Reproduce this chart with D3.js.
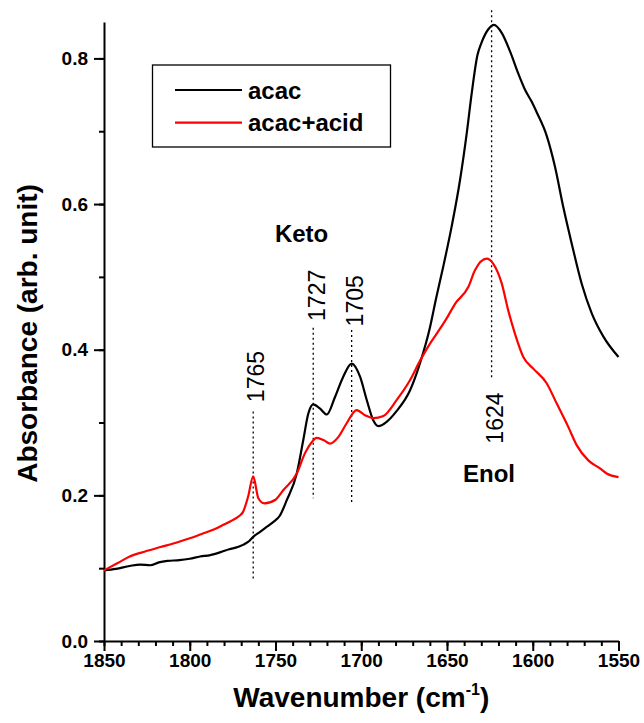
<!DOCTYPE html>
<html>
<head>
<meta charset="utf-8">
<script src="https://cdn.jsdelivr.net/npm/d3@7"></script>
<style>
  body { margin: 0; background: #fff; }
  text { font-family: Arial, "Liberation Sans", sans-serif; }
</style>
</head>
<body>
<div id="chart"></div>
<script>
// acac spectrum (wavenumber, absorbance)
const acacWn = [1850, 1843, 1835, 1829, 1823, 1818, 1813, 1806, 1800, 1794, 1788, 1782, 1777, 1772, 1769, 1766, 1763, 1759, 1755, 1751, 1747.5, 1743.5, 1737.6, 1733.8, 1730.9, 1728, 1724, 1720.1, 1715.3, 1710.5, 1705.6, 1700.7, 1696.8, 1693, 1690, 1685.2, 1679.3, 1671.6, 1665.7, 1659.9, 1656.4, 1652.2, 1647.3, 1642.4, 1638.5, 1635.6, 1632.3, 1629.8, 1625.9, 1622.6, 1618.1, 1613.3, 1608.4, 1604.5, 1600.5, 1597.7, 1591.9, 1587, 1582.2, 1577.3, 1571.5, 1565.6, 1558.8, 1550];
const acacAbs = [0.097, 0.099, 0.103, 0.105, 0.104, 0.108, 0.110, 0.111, 0.113, 0.116, 0.118, 0.122, 0.126, 0.129, 0.132, 0.136, 0.143, 0.150, 0.157, 0.164, 0.172, 0.193, 0.230, 0.276, 0.312, 0.325, 0.319, 0.311, 0.335, 0.363, 0.381, 0.363, 0.331, 0.303, 0.295, 0.301, 0.316, 0.344, 0.382, 0.431, 0.470, 0.514, 0.569, 0.633, 0.697, 0.752, 0.804, 0.822, 0.840, 0.846, 0.835, 0.810, 0.779, 0.757, 0.740, 0.726, 0.694, 0.651, 0.596, 0.546, 0.491, 0.450, 0.418, 0.390];

// acac+acid spectrum
const acidWn = [1850, 1842, 1835, 1826, 1817, 1808, 1800, 1793, 1786, 1780, 1775, 1771, 1769, 1766, 1763, 1760, 1756.5, 1750, 1745.5, 1737.6, 1732.8, 1728.9, 1726, 1722, 1718.2, 1713.4, 1708.5, 1702.7, 1697.8, 1693, 1687.1, 1679.3, 1671.6, 1665.7, 1660, 1656, 1650.2, 1645.3, 1637.6, 1633.7, 1626.9, 1623, 1618.1, 1614.3, 1610.4, 1605.5, 1599.7, 1591.9, 1586, 1579.3, 1574.4, 1567.6, 1560.8, 1556.9, 1550];
const acidAbs = [0.097, 0.107, 0.116, 0.123, 0.129, 0.135, 0.141, 0.147, 0.153, 0.160, 0.166, 0.172, 0.177, 0.198, 0.226, 0.196, 0.189, 0.194, 0.207, 0.230, 0.258, 0.273, 0.279, 0.276, 0.271, 0.280, 0.299, 0.317, 0.310, 0.306, 0.309, 0.331, 0.358, 0.385, 0.408, 0.422, 0.443, 0.463, 0.486, 0.509, 0.525, 0.518, 0.491, 0.454, 0.422, 0.390, 0.374, 0.354, 0.326, 0.294, 0.269, 0.248, 0.237, 0.230, 0.225];

// peak markers: dotted line position, line top/bottom absorbance, label and label start
const peakWn = [1763, 1728, 1705.6, 1624];
const peakTop = [0.315, 0.43, 0.427, 0.866];
const peakBottom = [0.084, 0.196, 0.191, 0.358];
const peakLabels = ['1765', '1727', '1705', '1624'];
const peakLabelAbs = [0.328, 0.4395, 0.432, 0.271];

const bandLabels = ['Keto', 'Enol'];
const bandWn = [1734.8, 1625.5];
const bandAbs = [0.5475, 0.218];

const seriesNames = ['acac', 'acac+acid'];
const seriesColors = ['#000000', '#ff0000'];

const xMajor = [1850, 1800, 1750, 1700, 1650, 1600, 1550];
const yMajor = [0.0, 0.2, 0.4, 0.6, 0.8];

const width = 644;
const height = 723;
const margin = { left: 104, top: 22, right: 25.5, bottom: 82 };

const svg = d3.select('#chart')
    .append('svg')
    .attr('width', width)
    .attr('height', height);

const x = d3.scaleLinear().domain([1850, 1550]).range([margin.left, width - margin.right]);
const y = d3.scaleLinear().domain([0, 0.85]).range([height - margin.bottom, margin.top]);

// minor ticks
svg.append('g')
    .attr('transform', `translate(0,${y(0)})`)
    .call(d3.axisBottom(x).tickValues(d3.range(1850, 1549, -10)).tickSize(5).tickFormat(''))
    .call(g => g.select('.domain').remove())
    .call(g => g.selectAll('line').attr('stroke-width', 2));
svg.append('g')
    .attr('transform', `translate(${x(1850)},0)`)
    .call(d3.axisLeft(y).tickValues(d3.range(0, 0.85, 0.1)).tickSize(5).tickFormat(''))
    .call(g => g.select('.domain').remove())
    .call(g => g.selectAll('line').attr('stroke-width', 2));

// major axes
const xAxis = svg.append('g')
    .attr('transform', `translate(0,${y(0)})`)
    .call(d3.axisBottom(x).tickValues(xMajor).tickSize(10).tickSizeOuter(0).tickPadding(3).tickFormat(d3.format('d')));
const yAxis = svg.append('g')
    .attr('transform', `translate(${x(1850)},0)`)
    .call(d3.axisLeft(y).tickValues(yMajor).tickSize(10).tickSizeOuter(0).tickPadding(6).tickFormat(d3.format('.1f')));

[xAxis, yAxis].forEach(a => {
    a.select('.domain').attr('stroke-width', 2);
    a.selectAll('line').attr('stroke-width', 2);
    a.selectAll('text')
        .style('font-size', '19px')
        .style('font-weight', 'bold')
        .attr('fill', '#000');
});

// axis titles
const xt = svg.append('text')
    .attr('x', (x(1850) + x(1550)) / 2)
    .attr('y', 707)
    .attr('text-anchor', 'middle')
    .style('font-size', '28px')
    .style('font-weight', 'bold');
xt.append('tspan').text('Wavenumber (cm');
xt.append('tspan').attr('dy', -12).style('font-size', '16px').text('-1');
xt.append('tspan').attr('dy', 12).text(')');

svg.append('text')
    .attr('transform', `translate(37,${(y(0) + y(0.85)) / 2 + 2}) rotate(-90)`)
    .attr('text-anchor', 'middle')
    .style('font-size', '28px')
    .style('font-weight', 'bold')
    .text('Absorbance (arb. unit)');

// dotted peak markers
peakWn.forEach((wn, i) => {
    svg.append('line')
        .attr('x1', x(wn)).attr('x2', x(wn))
        .attr('y1', y(peakTop[i])).attr('y2', y(peakBottom[i]))
        .attr('stroke', '#000')
        .attr('stroke-width', 1.3)
        .attr('stroke-dasharray', '2,3');

    svg.append('text')
        .attr('transform', `translate(${x(wn) + 3},${y(peakLabelAbs[i])}) rotate(-90)`)
        .attr('dy', '0.36em')
        .style('font-size', '23px')
        .text(peakLabels[i]);
});

// spectra
const line = d3.line()
    .x(d => x(d[0]))
    .y(d => y(d[1]))
    .curve(d3.curveMonotoneX);

const seriesData = [
    d3.zip(acacWn, acacAbs),
    d3.zip(acidWn, acidAbs)
];

seriesData.forEach((data, i) => {
    svg.append('path')
        .datum(data)
        .attr('fill', 'none')
        .attr('stroke', seriesColors[i])
        .attr('stroke-width', 2.2)
        .attr('stroke-linejoin', 'round')
        .attr('d', line);
});

// band labels
bandLabels.forEach((t, i) => {
    svg.append('text')
        .attr('x', x(bandWn[i]))
        .attr('y', y(bandAbs[i]))
        .attr('text-anchor', 'middle')
        .style('font-size', '24px')
        .style('font-weight', 'bold')
        .text(t);
});

// legend
const legend = svg.append('g');
legend.append('rect')
    .attr('x', 152.5).attr('y', 65)
    .attr('width', 238).attr('height', 82)
    .attr('fill', '#fff')
    .attr('stroke', '#000')
    .attr('stroke-width', 1.3);

seriesNames.forEach((name, i) => {
    const ly = 90 + i * 32.7;
    legend.append('line')
        .attr('x1', 175).attr('x2', 242)
        .attr('y1', ly).attr('y2', ly)
        .attr('stroke', seriesColors[i])
        .attr('stroke-width', 2.2);
    legend.append('text')
        .attr('x', 248)
        .attr('y', ly + 8.5)
        .style('font-size', '24px')
        .style('font-weight', 'bold')
        .text(name);
});
</script>
</body>
</html>
